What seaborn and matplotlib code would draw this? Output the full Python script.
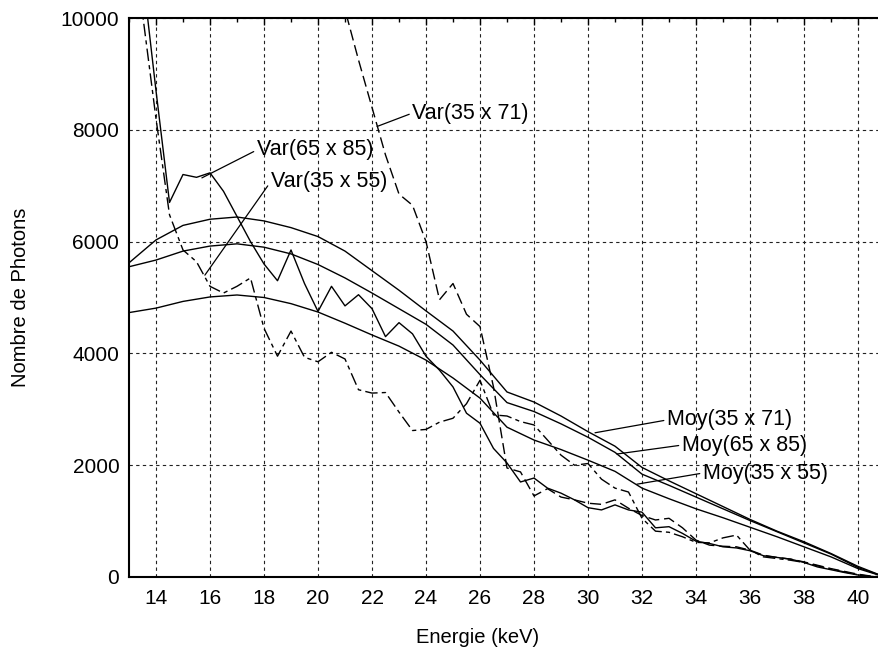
import matplotlib
matplotlib.use("Agg")
import matplotlib.pyplot as plt
import seaborn as sns
import pandas as pd
from matplotlib.ticker import MultipleLocator

# ---------------- data ----------------
energy_var = [13.0, 13.5, 14.0, 14.5, 15.0, 15.5, 16.0, 16.5, 17.0, 17.5,
              18.0, 18.5, 19.0, 19.5, 20.0, 20.5, 21.0, 21.5, 22.0, 22.5,
              23.0, 23.5, 24.0, 24.5, 25.0, 25.5, 26.0, 26.5, 27.0, 27.5,
              28.0, 28.5, 29.0, 29.5, 30.0, 30.5, 31.0, 31.5, 32.0, 32.5,
              33.0, 33.5, 34.0, 34.5, 35.0, 35.5, 36.0, 36.5, 37.0, 37.5,
              38.0, 38.5, 39.0, 39.5, 40.0, 40.5, 41.0]

var_35x71 = [26000, 24500, 23000, 21800, 20600, 19500, 18400, 17400, 16400, 15500,
             14600, 13800, 13000, 12300, 11600, 10900, 10150, 9250, 8400, 7550,
             6850, 6650, 6000, 4960, 5250, 4700, 4480, 3400, 1950, 1880,
             1450, 1580, 1430, 1380, 1320, 1300, 1380, 1230, 1100, 1020,
             1050, 880, 660, 570, 550, 540, 480, 390, 350, 320,
             270, 210, 150, 100, 50, 15, 0]

var_65x85 = [12800, 10800, 8700, 6700, 7200, 7150, 7230, 6900, 6450, 6000,
             5600, 5300, 5850, 5250, 4750, 5200, 4850, 5050, 4800, 4300,
             4550, 4350, 3950, 3700, 3400, 2930, 2750, 2300, 2040, 1700,
             1770, 1590, 1500, 1380, 1240, 1200, 1290, 1200, 1160, 880,
             900, 780, 640, 600, 540, 520, 470, 380, 350, 320,
             260, 180, 130, 80, 36, 5, 0]

var_35x55 = [12000, 10080, 8200, 6480, 5850, 5640, 5200, 5080, 5200, 5350,
             4450, 3950, 4400, 3930, 3850, 4020, 3900, 3350, 3290, 3300,
             2950, 2620, 2640, 2770, 2840, 3100, 3520, 2900, 2880, 2780,
             2720, 2450, 2180, 2000, 2030, 1750, 1590, 1520, 1050, 820,
             800, 720, 620, 610, 700, 750, 480, 360, 330, 300,
             260, 200, 140, 90, 40, 10, 0]

energy_moy = [13, 14, 15, 16, 17, 18, 19, 20, 21, 22, 23, 24, 25, 26, 27,
              28, 29, 30, 31, 32, 33, 34, 35, 36, 37, 38, 39, 40, 41]

moy_35x71 = [5620, 6030, 6290, 6400, 6440, 6370, 6250, 6090, 5830, 5480,
             5130, 4760, 4400, 3880, 3310, 3130, 2880, 2600, 2340, 1960,
             1720, 1490, 1260, 1030, 820, 630, 420, 190, 0]

moy_65x85 = [5550, 5670, 5830, 5920, 5960, 5900, 5780, 5590, 5350, 5080,
             4800, 4520, 4150, 3620, 3120, 2960, 2740, 2500, 2230, 1840,
             1640, 1430, 1220, 1010, 810, 610, 410, 170, 0]

moy_35x55 = [4730, 4810, 4930, 5010, 5045, 5000, 4890, 4740, 4540, 4330,
             4130, 3880, 3560, 3200, 2680, 2450, 2280, 2090, 1890, 1590,
             1400, 1220, 1060, 890, 720, 540, 360, 150, 0]

x_ticks = [14, 16, 18, 20, 22, 24, 26, 28, 30, 32, 34, 36, 38, 40]
y_ticks = [0, 2000, 4000, 6000, 8000, 10000]

labels = ["Var(35 x 71)", "Var(65 x 85)", "Var(35 x 55)",
          "Moy(35 x 71)", "Moy(65 x 85)", "Moy(35 x 55)"]
label_text_pos = [(23.50, 8300), (17.74, 7640), (18.26, 7080),
                  (32.93, 2810), (33.48, 2360), (34.26, 1860)]
label_point = [(22.19, 8060), (15.70, 7140), (15.81, 5400),
               (30.26, 2580), (31.07, 2200), (31.81, 1660)]

# ---------------- plot ----------------
sns.set_style("white")
plt.rcParams["font.family"] = ["Liberation Sans", "DejaVu Sans"]

fig = plt.figure(figsize=(8.79, 6.55), dpi=100)
ax = fig.add_axes([129 / 879, 78 / 655, 756 / 879, 559 / 655])

df_var = pd.DataFrame({"E": energy_var, "v71": var_35x71,
                       "v65": var_65x85, "v55": var_35x55})
df_moy = pd.DataFrame({"E": energy_moy, "m71": moy_35x71,
                       "m65": moy_65x85, "m55": moy_35x55})

lw = 1.0
sns.lineplot(data=df_var, x="E", y="v71", ax=ax, color="black", linewidth=lw)
ax.lines[-1].set_dashes([8, 3.5])
sns.lineplot(data=df_var, x="E", y="v65", ax=ax, color="black", linewidth=lw)
sns.lineplot(data=df_var, x="E", y="v55", ax=ax, color="black", linewidth=lw)
ax.lines[-1].set_dashes([9, 3, 3, 3])
for col in ["m71", "m65", "m55"]:
    sns.lineplot(data=df_moy, x="E", y=col, ax=ax, color="black", linewidth=lw)

ax.set_xlim(13, 41)
ax.set_ylim(0, 10000)
ax.set_xticks(x_ticks)
ax.set_yticks(y_ticks)
ax.xaxis.set_minor_locator(MultipleLocator(1))
ax.yaxis.set_minor_locator(MultipleLocator(1000))

ax.grid(True, which="major", color="#222222", linestyle=(0, (3, 3)),
        linewidth=0.8)
ax.tick_params(which="both", direction="in", top=True, right=True,
               colors="black", labelsize=15)
ax.tick_params(which="major", length=5, width=1)
ax.tick_params(which="minor", length=3, width=1)
ax.tick_params(axis="x", pad=9)
ax.tick_params(axis="y", pad=7)

for s in ax.spines.values():
    s.set_color("black")
    s.set_linewidth(1.5)

ax.set_xlabel("Energie (keV)", fontsize=14.5, color="black")
ax.set_ylabel("Nombre de Photons", fontsize=14.5, color="black")
ax.xaxis.set_label_coords((478 - 129) / 756, -(628 - 577) / 559)
ax.yaxis.set_label_coords((30 - 129) / 756, 0.5)

for txt, tpos, pt in zip(labels, label_text_pos, label_point):
    ax.annotate(txt, xy=pt, xytext=tpos, ha="left", va="center",
                fontsize=15.5, color="black",
                arrowprops=dict(arrowstyle="-", color="black", lw=0.9,
                                shrinkA=0, shrinkB=0, relpos=(0, 0.5)))

fig.savefig("out.png", dpi=100)
